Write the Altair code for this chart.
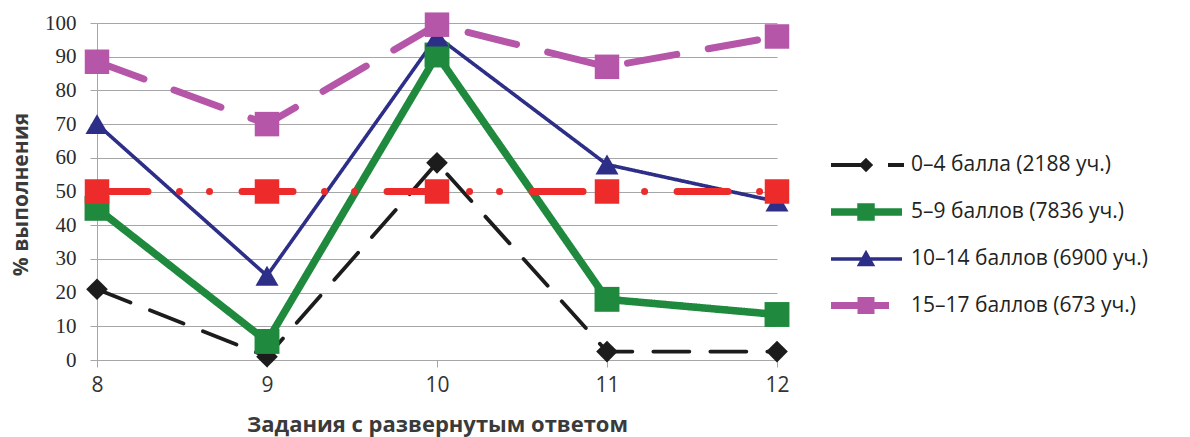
import altair as alt
import pandas as pd

# Task numbers on the x axis
tasks = [8, 9, 10, 11, 12]

# Score groups (legend order) and the reference level line
groups = [
    "0–4 балла (2188 уч.)",
    "5–9 баллов (7836 уч.)",
    "10–14 баллов (6900 уч.)",
    "15–17 баллов (673 уч.)",
]
level_name = "уровень 50%"

# Completion percentages per group
g0_4 = [21, 1, 58.5, 2.5, 2.5]
g5_9 = [45, 5.5, 90.5, 18, 13.5]
g10_14 = [70, 25, 96, 58, 47]
g15_17 = [88.5, 70, 99.5, 87, 96]
level = [50, 50, 50, 50, 50]

series_values = [g0_4, g5_9, g10_14, g15_17]

rows = []
for name, vals in zip(groups + [level_name], series_values + [level]):
    for t, v in zip(tasks, vals):
        rows.append({"series": name, "task": t, "pct": v})
df = pd.DataFrame(rows)

# Styling per group
colors = ["#1c1c1c", "#1f8a3e", "#2d2e87", "#b556a8"]
widths = [3.8, 7.5, 3.6, 7]
dashes = [[36, 21], [1, 0], [1, 0], [50, 32]]
level_color = "#ee2b2b"

# Legend symbols: line segment plus marker drawn as one path
legend_paths = [
    "M-3.5,0H0 M0,-0.45L0.45,0L0,0.45L-0.45,0Z M2.2,0H3.8",
    "M-3.5,0H3.6 M-0.5,-0.5H0.5V0.5H-0.5Z",
    "M-3.5,0H3.6 M0,-0.55L0.62,0.55L-0.62,0.55Z",
    "M-3.5,0H2.3 M-0.5,-0.5H0.5V0.5H-0.5Z",
]

W, H = 680, 337
LEFT, TOP = 97, 23

x_enc = alt.X(
    "task:Q",
    scale=alt.Scale(domain=[8, 12], nice=False, zero=False),
    axis=alt.Axis(
        values=tasks,
        format="d",
        grid=False,
        labelFlush=False,
        tickSize=7,
        tickColor="#a6a6a6",
        domainColor="#a6a6a6",
        labelFont="Open Sans",
        labelFontSize=21,
        labelColor="#333333",
        labelPadding=7,
        title="Задания с развернутым ответом",
        titleFont="Open Sans",
        titleFontSize=22,
        titleFontWeight="bold",
        titleColor="#3a3a3a",
        titleX=W / 2,
        titleY=64,
        titleBaseline="middle",
    ),
)
y_enc = alt.Y(
    "pct:Q",
    scale=alt.Scale(domain=[0, 100], nice=False),
    axis=alt.Axis(
        values=list(range(0, 101, 10)),
        grid=True,
        labelFlush=False,
        gridColor="#a6a6a6",
        gridWidth=1,
        tickSize=7,
        tickColor="#a6a6a6",
        domainColor="#a6a6a6",
        labelFont="Liberation Serif",
        labelFontSize=21,
        labelColor="#2a2a2a",
        labelPadding=14,
        title="% выполнения",
        titleFont="Open Sans",
        titleFontSize=21,
        titleFontWeight="bold",
        titleColor="#3a3a3a",
        titleX=-76,
        titleY=171,
        titleAngle=-90,
        titleAlign="center",
        titleBaseline="middle",
    ),
)

color_scale = alt.Scale(domain=groups, range=colors)
width_scale = alt.Scale(type="ordinal", domain=groups, range=widths)
shape_scale = alt.Scale(domain=groups, range=legend_paths)

base = alt.Chart(df)


def group_line(i):
    return (
        base.transform_filter(alt.datum.series == groups[i])
        .mark_line(
            strokeCap="round",
            strokeJoin="round",
            strokeWidth=widths[i],
            strokeDash=dashes[i],
        )
        .encode(
            x=x_enc,
            y=y_enc,
            color=alt.Color("series:N", scale=color_scale),
        )
    )


def group_points(i, shape, size):
    return (
        base.transform_filter(alt.datum.series == groups[i])
        .mark_point(shape=shape, filled=True, size=size, opacity=1)
        .encode(
            x=x_enc,
            y=y_enc,
            color=alt.Color("series:N", scale=color_scale),
        )
    )


level_line = (
    base.transform_filter(alt.datum.series == level_name)
    .mark_line(
        color=level_color,
        strokeWidth=7,
        strokeCap="round",
        strokeDash=[51, 31.5, 0.01, 30, 0.01, 32.5],
    )
    .encode(x=x_enc, y=y_enc)
)
level_points = (
    base.transform_filter(alt.datum.series == level_name)
    .mark_point(shape="square", filled=True, size=600, color=level_color, opacity=1)
    .encode(x=x_enc, y=y_enc)
)

# Legend-only layer: carries the color legend, draws no marks itself
legend_layer = (
    base.transform_filter("false")
    .mark_point(size=400, filled=True, opacity=1)
    .encode(
        x=x_enc,
        y=y_enc,
        color=alt.Color(
            "series:N",
            scale=color_scale,
            legend=alt.Legend(
                title=None,
                orient="none",
                legendX=755,
                legendY=130,
                padding=0,
                offset=0,
                symbolSize=400,
                rowPadding=14,
                labelOffset=31,
                labelFont="Open Sans",
                labelFontSize=21,
                labelColor="#222222",
                labelLimit=400,
                symbolOpacity=1,
                symbolType={"expr": "scale('shape', datum.value)"},
                symbolFillColor={"expr": "scale('color', datum.value)"},
                symbolStrokeColor={"expr": "scale('color', datum.value)"},
                symbolStrokeWidth={"expr": "scale('strokeWidth', datum.value)"},
            ),
        ),
        shape=alt.Shape("series:N", scale=shape_scale, legend=None),
        strokeWidth=alt.StrokeWidth("series:N", scale=width_scale, legend=None),
    )
)

layers = [
    group_line(0),
    group_line(1),
    group_line(2),
    level_line,
    group_line(3),
    group_points(0, "diamond", 470),
    group_points(1, "square", 620),
    group_points(2, "triangle-up", 530),
    level_points,
    group_points(3, "square", 600),
    legend_layer,
]

chart = (
    alt.layer(*layers)
    .properties(
        width=W,
        height=H,
        autosize=alt.AutoSizeParams(type="none"),
        padding={"left": LEFT, "top": TOP, "right": 1190 - LEFT - W, "bottom": 437 - TOP - H},
        background="white",
    )
    .configure_view(stroke=None)
)

chart.save("out.html", embed_options={"renderer": "svg", "actions": False})
